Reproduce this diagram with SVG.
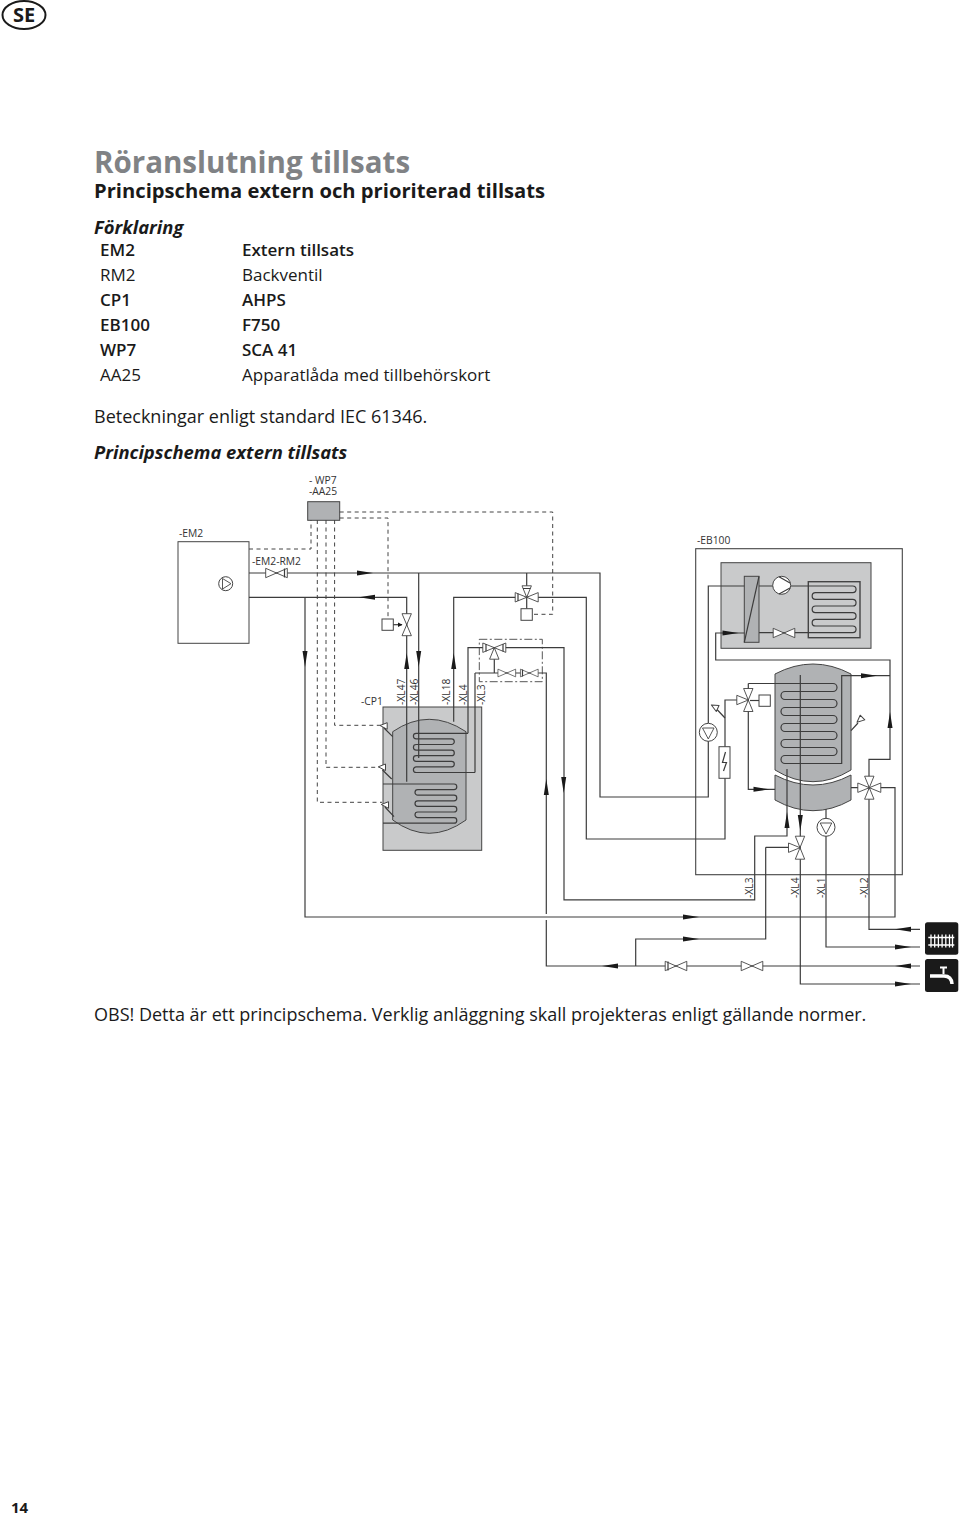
<svg xmlns="http://www.w3.org/2000/svg" width="960" height="1515" viewBox="0 0 960 1515">
<style>
text{font-family:"Open Sans","Noto Sans","Liberation Sans",sans-serif;fill:#1a1a1a}
.b{font-weight:600}
.l{font-size:17px}
.h{font-size:18.400px;font-weight:700;font-style:italic}
.t{font-size:10.300px;fill:#333}
.p{fill:none;stroke:#3c3c3c;stroke-width:1.200}
.d{fill:none;stroke:#444;stroke-width:1;stroke-dasharray:4 3.500}
.dd{fill:none;stroke:#444;stroke-width:.9;stroke-dasharray:8 2.500 2 2.500}
.g{fill:#c9cacb;stroke:#444;stroke-width:1}
.g2{fill:#b0b2b4;stroke:#444;stroke-width:1}
.v{fill:#fff;stroke:#444;stroke-width:.9}
.w{fill:#fff;stroke:#444;stroke-width:1}
.a{fill:#1a1a1a}
.s{fill:#fff;stroke:#444;stroke-width:1;stroke-linejoin:round}
</style>
<defs>
<path id="ar" d="M0 -2.500 L16 0 L0 2.500Z" class="a"/>
<path id="au" d="M-2.500 0 L0 -16 L2.500 0Z" class="a"/>
<path id="ad" d="M-2.500 0 L0 16 L2.500 0Z" class="a"/>
<path id="al" d="M0 -2.500 L-16 0 L0 2.500Z" class="a"/>
<path id="vh" d="M-10.800 -4.700 L10.800 4.700 V-4.700 L-10.800 4.700Z" class="v"/>
<path id="vv" d="M-4.700 -11 L4.700 11 H-4.700 L4.700 -11Z" class="v"/>
<path id="tl" d="M0 0 L-11.500 -4.700 V4.700Z" class="v"/>
<path id="tr" d="M0 0 L11.500 -4.700 V4.700Z" class="v"/>
<path id="tt" d="M0 0 L-4.700 -11.500 H4.700Z" class="v"/>
<path id="tb" d="M0 0 L-4.700 11.500 H4.700Z" class="v"/>
<path id="sn" d="M-3.700 -.5 L3.500 -3.300 V3.300Z" class="s"/>
</defs>

<g id="page-head">
<ellipse cx="24" cy="15" rx="21.500" ry="14" fill="#fff" stroke="#1a1a1a" stroke-width="2"/>
<text x="24" y="22" text-anchor="middle" font-size="20" font-weight="700">SE</text>
<text x="94" y="173" font-size="29.500" font-weight="700" style="fill:#808285">Röranslutning tillsats</text>
<text x="94" y="198" font-size="20.200" font-weight="700">Principschema extern och prioriterad tillsats</text>
<text x="94" y="234" class="h">Förklaring</text>
<text x="100" y="256" class="l b">EM2</text><text x="242" y="256" class="l b">Extern tillsats</text>
<text x="100" y="281" class="l">RM2</text><text x="242" y="281" class="l">Backventil</text>
<text x="100" y="306" class="l b">CP1</text><text x="242" y="306" class="l b">AHPS</text>
<text x="100" y="331" class="l b">EB100</text><text x="242" y="331" class="l b">F750</text>
<text x="100" y="356" class="l b">WP7</text><text x="242" y="356" class="l b">SCA 41</text>
<text x="100" y="381" class="l">AA25</text><text x="242" y="381" class="l">Apparatlåda med tillbehörskort</text>
<text x="94" y="423" font-size="18">Beteckningar enligt standard IEC 61346.</text>
<text x="94" y="459" class="h">Principschema extern tillsats</text>
<text x="94" y="1021" font-size="18">OBS! Detta är ett principschema. Verklig anläggning skall projekteras enligt gällande normer.</text>
<text x="11" y="1513" font-size="15" font-weight="700">14</text>
</g>

<g id="labels">
<text x="309" y="483.500" class="t">- WP7</text>
<text x="309" y="495" class="t">-AA25</text>
<text x="179" y="536.500" class="t">-EM2</text>
<text x="252" y="564.500" class="t">-EM2-RM2</text>
<text x="697" y="543.500" class="t">-EB100</text>
<text x="361" y="705" class="t">-CP1</text>
<text transform="translate(405 705) rotate(-90)" class="t">-XL47</text>
<text transform="translate(418.300 705) rotate(-90)" class="t">-XL46</text>
<text transform="translate(450 705) rotate(-90)" class="t">-XL18</text>
<text transform="translate(466.700 705) rotate(-90)" class="t">-XL4</text>
<text transform="translate(485 705) rotate(-90)" class="t">-XL3</text>
<text transform="translate(752.700 898) rotate(-90)" class="t">-XL3</text>
<text transform="translate(799.300 898) rotate(-90)" class="t">-XL4</text>
<text transform="translate(825.300 898) rotate(-90)" class="t">-XL1</text>
<text transform="translate(868.300 898) rotate(-90)" class="t">-XL2</text>
</g>

<g id="EM2"><rect x="178" y="541.700" width="71" height="101.600" fill="#fff" stroke="#444" stroke-width="1"/>
<circle cx="225.700" cy="583.700" r="7" class="w"/><path d="M222.500 578.500 V589 L231 583.700Z" fill="none" stroke="#444" stroke-width=".9"/></g>
<g id="AA25"><rect x="307.700" y="501.700" width="32" height="18.600" class="g2"/></g>

<g id="CP1">
<rect x="383" y="707" width="98.700" height="143.300" class="g"/>
<path d="M392.700 731.700 Q429 706.900 466 731.700 V820 Q429 846.600 392.700 820Z" class="g2"/>
</g>

<g id="EB100">
<rect x="695.700" y="548.700" width="206.600" height="326" fill="none" stroke="#444" stroke-width="1.100"/>
<rect x="721" y="562.700" width="150" height="85.600" class="g"/>
<rect x="744.300" y="576.300" width="14.700" height="66" class="g2"/>
<path d="M759 576.300 L744.300 642.300" class="p"/>
<rect x="808.300" y="581.700" width="51.700" height="56" fill="#c9cacb" stroke="#444" stroke-width="1.400"/>
<path d="M775 674 Q813 654 851 674 V770 Q813 793.400 775 770Z M775 775 Q813 795 851 775 V800 Q813 821.400 775 800Z" class="g2"/>
</g>

<g id="connectors">
<path class="d" d="M249 549H311V520M317.300 520V802.300H382M326 520V767.300H379M334.600 520V725.300H381M339.700 512H552.700V614.300H532M339.700 518H388V618"/>
<path class="dd" d="M479.300 639.300H542.300V681.700H479.300Z"/>
<path class="p" d="M249 573H600V797H708.300V741M249 597.300H406.700V781.700M305 597.300V917H895V787.700H851M418.700 573V758M453.700 721.700V597.300H586.300V839H725V700H737M526.700 573V608.700"/>
<path class="p" d="M468 733.300V647.700H564V899.800H754.700V836H787V769M494.300 647.700V673M475 673V772.500M475 673H546.300V914M546.300 920V966H920"/>
<path class="p" d="M468 733.300H416.200a2.800 2.800 0 0 0 0 5.600H451.500a2.800 2.800 0 0 1 0 5.600H416.200a2.800 2.800 0 0 0 0 5.600H451.500a2.800 2.800 0 0 1 0 5.600H416.200a2.800 2.800 0 0 0 0 5.600H451.500a2.800 2.800 0 0 1 0 5.600H416.200a2.800 2.800 0 0 0 0 5.600H475"/>
<path class="p" d="M383 784H454a2.800 2.800 0 0 1 0 5.600H417.800a2.800 2.800 0 0 0 0 5.600H454a2.800 2.800 0 0 1 0 5.600H417.800a2.800 2.800 0 0 0 0 5.600H454a2.800 2.800 0 0 1 0 5.600H417.800a2.800 2.800 0 0 0 0 5.600H454a2.800 2.800 0 0 1 0 5.600H383"/>
<path class="p" d="M384 728L392.700 736.700M382.500 770L391.700 779M385 807L394 816.700M717 709.500L725 718M858 723L851 730.700"/>
<path class="p" d="M708.300 723V586H744.300M759 586H773M791 586H852.700a3.330 3.330 0 0 1 0 6.670H815.500a3.330 3.330 0 0 0 0 6.670H852.700a3.330 3.330 0 0 1 0 6.670H815.500a3.330 3.330 0 0 0 0 6.670H852.700a3.330 3.330 0 0 1 0 6.670H815.500a3.330 3.330 0 0 0 0 6.670H852.700a3.330 3.330 0 0 1 0 6.670H759M744.300 633H715.700V660H890V759.300H869V929.300H920"/>
<path class="p" d="M748.300 683.500H833a4 4 0 0 1 0 8H785a4 4 0 0 0 0 8H833a4 4 0 0 1 0 8H785a4 4 0 0 0 0 8H833a4 4 0 0 1 0 8H785a4 4 0 0 0 0 8H833a4 4 0 0 1 0 8H785a4 4 0 0 0 0 8H833a4 4 0 0 1 0 8H785a4 4 0 0 0 0 8H841.700V675.700H890"/>
<path class="p" d="M748.300 683.500V789.300H775M800.300 675V984H920M826 809V947H920M765.700 847.300V939H635.700V966M765.700 847.300H789"/>
<g id="arrows">
<use href="#ar" x="357" y="573"/><use href="#al" x="375" y="597.300"/>
<use href="#ad" x="305" y="651"/><use href="#au" x="406.700" y="669"/>
<use href="#ad" x="418.700" y="651"/><use href="#au" x="453.700" y="669"/>
<use href="#au" x="546.300" y="795"/><use href="#ad" x="563.700" y="777"/>
<use href="#ar" x="722.500" y="633"/><use href="#ar" x="861" y="675.700"/>
<use href="#au" x="890" y="728"/><use href="#ar" x="753.500" y="789.300"/>
<use href="#au" x="787" y="828"/><use href="#ad" x="800.300" y="815"/>
<use href="#ar" x="683" y="917"/><use href="#ar" x="683" y="939"/>
<use href="#al" x="618" y="966"/>
<use href="#al" x="911" y="929.300"/><use href="#ar" x="895" y="947"/>
<use href="#al" x="911" y="966"/><use href="#ar" x="895" y="984"/>
</g>
</g>

<g id="valves">
<use href="#vh" x="276.500" y="573"/><path d="M284.500 568.500V577.500" class="p"/>
<use href="#vv" x="406.700" y="624.700"/>
<rect x="382" y="619" width="11.300" height="11.300" class="w"/>
<path d="M393.300 624.700H402" class="p"/><path d="M398 622.500L402.500 624.700L398 627Z" class="a"/>
<use href="#tt" x="526.700" y="597.300"/><use href="#tl" x="526.700" y="597.300"/><use href="#tr" x="526.700" y="597.300"/>
<path d="M518 593.500V601M523 588.500H530.500" class="p"/>
<rect x="521" y="608.700" width="11.300" height="11.600" class="w"/>
<use href="#tl" x="494.300" y="647.700"/><use href="#tr" x="494.300" y="647.700"/><use href="#tb" x="494.300" y="647.700"/>
<path d="M486 644V651.500M503 644V651.500" class="p"/>
<g transform="translate(506.800 673) scale(.82)"><use href="#vh"/></g>
<g transform="translate(529.300 673) scale(.82)"><use href="#vh"/></g>
<path d="M522.500 669.500V676.500" class="p"/>
<use href="#vh" x="784" y="633"/>
<use href="#tt" x="748.300" y="700"/><use href="#tb" x="748.300" y="700"/><use href="#tl" x="748.300" y="700"/>
<rect x="759" y="695" width="11.300" height="11.300" class="w"/><path d="M750 700.500H759" class="p"/>
<use href="#tt" x="800" y="847.700"/><use href="#tb" x="800" y="847.700"/><use href="#tl" x="800" y="847.700"/>
<use href="#tt" x="869.300" y="787.700"/><use href="#tb" x="869.300" y="787.700"/><use href="#tl" x="869.300" y="787.700"/><use href="#tr" x="869.300" y="787.700"/>
<use href="#vh" x="676" y="966"/><path d="M668 961.500V970.500" class="p"/>
<use href="#vh" x="752" y="966"/>
<circle cx="781.700" cy="585.300" r="9" class="w"/><path d="M779 576.700L790 583M779 594L790 588" class="p"/>
<circle cx="708.300" cy="732.300" r="9" class="w"/><path d="M702.500 728H714L708.300 739Z" fill="none" stroke="#444" stroke-width=".9"/>
<circle cx="826" cy="827.300" r="9" class="w"/><path d="M820.200 823H831.800L826 834Z" fill="none" stroke="#444" stroke-width=".9"/>
<rect x="719" y="746.700" width="11" height="31.600" class="w"/><path d="M725.500 752L722.500 762.500H726.500L723.500 771" class="p"/>
<use href="#sn" x="383.700" y="726"/><use href="#sn" x="382" y="767.300"/><use href="#sn" x="385" y="805"/>
<use href="#sn" x="714.500" y="707" transform="rotate(25 714.500 707)"/><use href="#sn" x="860" y="720" transform="rotate(-45 860 720)"/>
</g>

<g id="icon-radiator">
<rect x="925" y="922.300" width="33.300" height="32.500" rx="2.500" fill="#1a1a1a"/>
<path d="M928.300 937.500H954.300M928.300 945H954.300M931 934.500V947.500M934.700 934.500V947.500M938.400 934.500V947.500M942.100 934.500V947.500M945.800 934.500V947.500M949.500 934.500V947.500M952.500 934.500V947.500" fill="none" stroke="#fff" stroke-width="1.300"/>
</g>
<g id="icon-tap">
<rect x="925" y="959" width="33.300" height="33" rx="2.500" fill="#1a1a1a"/>
<path d="M930 976H944Q951.500 976 952 984" fill="none" stroke="#fff" stroke-width="3.500"/>
<path d="M943.500 968.500V974M940 967.500H947" fill="none" stroke="#fff" stroke-width="2"/>
</g>
</svg>
